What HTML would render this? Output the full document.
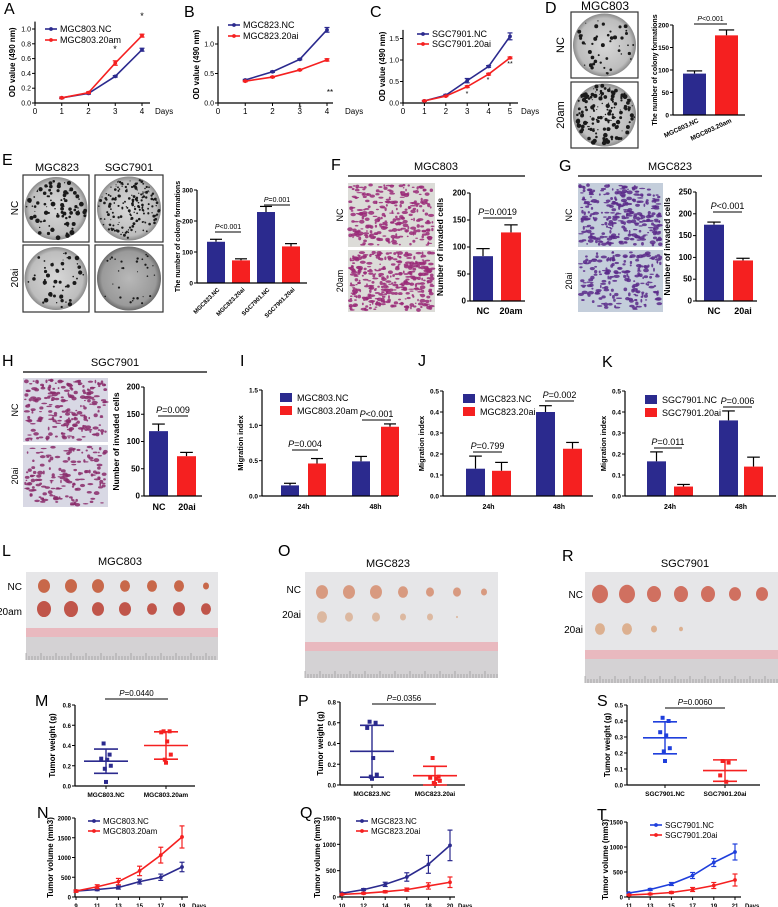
<!DOCTYPE html>
<html><head><meta charset="utf-8"><style>
html,body{margin:0;padding:0;background:#fff;}
svg{display:block;font-family:"Liberation Sans",Arial,sans-serif;}
</style></head><body>
<svg id="fig" width="778" height="907" viewBox="0 0 778 907" xmlns="http://www.w3.org/2000/svg">
<defs>
<radialGradient id="dish" cx="50%" cy="50%" r="50%"><stop offset="0" stop-color="#d8d8d8"/><stop offset="0.85" stop-color="#bdbdbd"/><stop offset="1" stop-color="#8a8a8a"/></radialGradient>
<radialGradient id="dish2" cx="50%" cy="50%" r="50%"><stop offset="0" stop-color="#b8b8b8"/><stop offset="0.85" stop-color="#9a9a9a"/><stop offset="1" stop-color="#6a6a6a"/></radialGradient>
</defs>
</svg>
<script>
// ---------- DATA ----------
const A_days=[1,2,3,4]; const A_nc=[0.07,0.13,0.36,0.72]; const A_nc_err=[0.01,0.01,0.01,0.02]; const A_am=[0.07,0.14,0.54,0.91]; const A_am_err=[0.01,0.01,0.03,0.02];
const B_days=[1,2,3,4]; const B_nc=[0.39,0.53,0.74,1.24]; const B_nc_err=[0.01,0.01,0.01,0.04]; const B_ai=[0.37,0.44,0.56,0.73]; const B_ai_err=[0.01,0.01,0.01,0.02];
const C_days=[1,2,3,4,5]; const C_nc=[0.05,0.18,0.52,0.85,1.55]; const C_nc_err=[0.01,0.02,0.05,0.02,0.08]; const C_ai=[0.05,0.16,0.38,0.67,1.05]; const C_ai_err=[0.01,0.01,0.02,0.02,0.02];
const D_vals=[92,177]; const D_errs=[6,12];
const E_vals=[133,73,229,118]; const E_errs=[8,5,18,9];
const F_vals=[83,127]; const F_errs=[14,14];
const G_vals=[175,93]; const G_errs=[6,5];
const H_vals=[119,73]; const H_errs=[13,7];
const I_nc=[0.15,0.49]; const I_nc_err=[0.03,0.07]; const I_tr=[0.46,0.98]; const I_tr_err=[0.07,0.04];
const J_nc=[0.13,0.40]; const J_nc_err=[0.06,0.03]; const J_tr=[0.12,0.225]; const J_tr_err=[0.04,0.03];
const K_nc=[0.165,0.36]; const K_nc_err=[0.045,0.045]; const K_tr=[0.045,0.14]; const K_tr_err=[0.01,0.045];
const M_nc=[0.42,0.31,0.27,0.26,0.20,0.17,0.04]; const M_nc_mean=0.245; const M_nc_sd=0.12;
const M_tr=[0.54,0.54,0.53,0.44,0.31,0.26,0.23]; const M_tr_mean=0.40; const M_tr_sd=0.135;
const P_nc=[0.61,0.60,0.55,0.26,0.10,0.08,0.06]; const P_nc_mean=0.325; const P_nc_sd=0.25;
const P_tr=[0.26,0.08,0.07,0.06,0.04,0.02,0.01]; const P_tr_mean=0.09; const P_tr_sd=0.09;
const S_nc=[0.42,0.40,0.33,0.31,0.23,0.21,0.15]; const S_nc_mean=0.295; const S_nc_sd=0.10;
const S_tr=[0.15,0.14,0.06,0.02]; const S_tr_mean=0.09; const S_tr_sd=0.067;
const N_days=[9,11,13,15,17,19]; const N_nc=[150,190,240,390,500,760]; const N_nc_err=[20,30,40,60,80,120]; const N_tr=[150,260,390,660,1060,1520]; const N_tr_err=[30,50,80,120,200,280];
const Q_days=[10,12,14,16,18,20]; const Q_nc=[70,140,240,380,620,980]; const Q_nc_err=[10,20,40,80,170,290]; const Q_tr=[50,70,100,140,210,280]; const Q_tr_err=[10,15,20,30,60,100];
const T_days=[11,13,15,17,19,21]; const T_nc=[80,150,260,430,690,900]; const T_nc_err=[10,20,30,60,80,160]; const T_tr=[40,60,90,150,230,340]; const T_tr_err=[10,15,20,40,60,120];

// ---------- HELPERS ----------
const NS='http://www.w3.org/2000/svg';
const svg=document.getElementById('fig');
const NAVY='#2b2a8e', RED='#f52020', BLUE='#1f3fdc';
function mk(tag,attrs,name,parent){
  const el=document.createElementNS(NS,tag);
  for(const k in attrs) el.setAttribute(k,attrs[k]);
  
  
  (parent||svg).appendChild(el); return el;
}
function ln(p,x1,y1,x2,y2,name,col,w){return mk('line',{x1,y1,x2,y2,stroke:col||'#000','stroke-width':w||1},name,p);}
function tx(p,x,y,s,name,size,o){o=o||{};const t=mk('text',{x,y,'font-size':size,'text-anchor':o.a||'start','font-weight':o.b?'bold':'normal',fill:o.c||'#000'},name,p);
  if(o.r!==undefined) t.setAttribute('transform','rotate('+o.r+' '+x+' '+y+')');
  if(o.i){const ts=mk('tspan',{'font-style':'italic'},'p-symbol',t);ts.textContent='P';const t2=mk('tspan',{},'p-value',t);t2.textContent=s;} else t.textContent=s; return t;}
function letter(x,y,s){tx(svg,x,y,s,'panel-label-'+s.toLowerCase(),16);}
function pline(p,x1,x2,y,s,size){ln(p,x1,y,x2,y,'significance-line');tx(p,(x1+x2)/2,y-3,s,'p-value-label',size||9,{a:'middle',i:true});}
let seed=7;function rnd(){seed=(seed*16807)%2147483647;return seed/2147483647;}

function axes(g,c,Y){
  ln(g,c.ax,Y(c.yAxisMax),c.ax,c.y0,'y-axis',null,1.2);
  ln(g,c.ax,c.y0,c.xEnd,c.y0,'x-axis',null,1.2);
  c.yticks.forEach((v,i)=>{ln(g,c.ax-3,Y(v),c.ax,Y(v),'y-tick');tx(g,c.ax-4,Y(v)+2.5,c.ylabels[i],'y-tick-label',c.tfs||7,{a:'end',b:c.tb});});
  if(c.ytitle) tx(g,c.ytx,(c.y0+Y(c.yAxisMax))/2,c.ytitle,'y-axis-title',c.yfs||8,{a:'middle',b:true,r:-90});
}
function lineChart(c){
  const g=mk('g',{},c.name);
  const X=v=>c.px0+(v-c.d0)/(c.d1-c.d0)*(c.px1-c.px0);
  const Y=v=>c.y0-v/c.ymax*(c.y0-c.yTop);
  axes(g,c,Y);
  c.xticks.forEach(v=>{ln(g,X(v),c.y0,X(v),c.y0+3,'x-tick');tx(g,X(v),c.y0+11,String(v),'x-tick-label',c.xfs||8,{a:'middle',b:c.tb});});
  tx(g,c.daysX,c.y0+11,'Days','x-axis-title',c.xfs||8,{b:c.tb});
  c.series.forEach((s,si)=>{
    const sg=mk('g',{},'series-'+s.key,g);
    mk('polyline',{points:s.days.map((d,i)=>X(d)+','+Y(s.vals[i])).join(' '),fill:'none',stroke:s.col,'stroke-width':1.6},'series-line',sg);
    s.days.forEach((d,i)=>{const x=X(d),y=Y(s.vals[i]),e=s.err[i];
      ln(sg,x,Y(s.vals[i]+e),x,Y(s.vals[i]-e),'error-bar',s.col,1.2);
      ln(sg,x-2.5,Y(s.vals[i]+e),x+2.5,Y(s.vals[i]+e),'error-cap',s.col,1.2);
      ln(sg,x-2.5,Y(s.vals[i]-e),x+2.5,Y(s.vals[i]-e),'error-cap',s.col,1.2);
      mk('circle',{cx:x,cy:y,r:1.9,fill:s.col},'data-point',sg);});
    const ly=c.legY+si*c.legDy;
    ln(g,c.legX,ly,c.legX+12,ly,'legend-line',s.col,1.6);
    mk('circle',{cx:c.legX+6,cy:ly,r:1.9,fill:s.col},'legend-marker',g);
    tx(g,c.legX+15,ly+3,s.label,'legend-entry',c.lfs||9);
  });
  return g;
}
function barChart(c){
  const g=mk('g',{},c.name);
  const Y=v=>c.y0-v/c.ymax*(c.y0-c.yTop);
  c.vals.forEach((v,i)=>{const l=c.lefts[i],w=c.w,col=c.cols[i],e=c.errs[i];
    ln(g,l+w/2,Y(v),l+w/2,Y(v+e),'error-bar',null,1.2);
    ln(g,l+w/2-w/3,Y(v+e),l+w/2+w/3,Y(v+e),'error-cap',null,1.2);
    mk('rect',{x:l,y:Y(v),width:w,height:c.y0-Y(v),fill:col},'bar-'+c.keys[i],g);});
  axes(g,c,Y);
  return g;
}
function scatter(c){
  const g=mk('g',{},c.name);
  const Y=v=>c.y0-v/c.ymax*(c.y0-c.yTop);
  axes(g,c,Y);
  const jit=[-2,3,-4,1,4,-1,0];
  c.groups.forEach((gr,gi)=>{
    const cx=c.gx[gi],col=gr.col;
    ln(g,cx,c.y0,cx,c.y0+3,'x-tick');
    tx(g,cx,c.y0+11,gr.label,'x-tick-label',6.5,{a:'middle',b:true});
    gr.pts.forEach((v,i)=>mk('rect',{x:cx+jit[i%7]*1.2-2,y:Y(v)-2,width:4,height:4,fill:col},'data-point',g));
    ln(g,cx-22,Y(gr.mean),cx+22,Y(gr.mean),'mean-line',col,1.6);
    ln(g,cx,Y(gr.mean+gr.sd),cx,Y(Math.max(0,gr.mean-gr.sd)),'sd-bar',col,1.4);
    ln(g,cx-12,Y(gr.mean+gr.sd),cx+12,Y(gr.mean+gr.sd),'sd-cap',col,1.6);
    ln(g,cx-12,Y(gr.mean-gr.sd),cx+12,Y(gr.mean-gr.sd),'sd-cap',col,1.6);
  });
  return g;
}
function dish(x,y,w,h,n,big,name,dark){
  const g=mk('g',{},name);
  mk('rect',{x,y,width:w,height:h,fill:'#fff',stroke:'#333','stroke-width':1.2},'photo-frame',g);
  const cx=x+w/2,cy=y+h/2,r=Math.min(w,h)/2-1.5;
  mk('circle',{cx,cy,r,fill:dark?'url(#dish2)':'url(#dish)'},'culture-dish',g);
  for(let i=0;i<n;i++){const a=rnd()*6.283,rr=Math.sqrt(rnd())*r*0.95;
    mk('circle',{cx:cx+Math.cos(a)*rr,cy:cy+Math.sin(a)*rr,r:0.5+rnd()*big,fill:'#1a1a1a'},'colony',g);}
}
function invasion(x,y,w,h,n,name,col,bg){
  const g=mk('g',{},name);
  mk('rect',{x,y,width:w,height:h,fill:bg},'photo-background',g);
  for(let i=0;i<n;i++){mk('ellipse',{cx:x+2+rnd()*(w-4),cy:y+2+rnd()*(h-4),rx:0.8+rnd()*2.4,ry:0.6+rnd()*1.4,fill:col,opacity:0.85},'cell',g);}
}
function tumors(x,y,w,h,rows,name,rulerTop){
  const g=mk('g',{},name);
  mk('rect',{x,y,width:w,height:h,fill:'#e6e6e8'},'photo-background',g);
  rows.forEach(r=>r.sizes.forEach((s,i)=>{if(s>0)mk('ellipse',{cx:x+r.x0+i*r.dx,cy:y+r.y,rx:s,ry:s*1.15,fill:r.col},'tumor',g);}));
  mk('rect',{x,y:y+rulerTop,width:w,height:9,fill:'#e9b9bf'},'ruler-scale',g);
  mk('rect',{x,y:y+rulerTop+9,width:w,height:h-rulerTop-9,fill:'#d4d2d4'},'ruler-body',g);
  for(let i=0;i<w;i+=3) ln(g,x+i,y+h-(i%15==0?7:4),x+i,y+h,'ruler-tick','#888',0.6);
}

// ---------- PANELS A-C ----------
letter(4,14,'A'); letter(184,17,'B'); letter(370,17,'C');
lineChart({name:'chart-a-cck8',ax:35,y0:103,yTop:29,ymax:1.0,yAxisMax:1.1,xEnd:150,px0:35,px1:142,d0:0,d1:4,
  yticks:[0,0.2,0.4,0.6,0.8,1.0],ylabels:['0.0','0.2','0.4','0.6','0.8','1.0'],xticks:[0,1,2,3,4],daysX:155,
  ytitle:'OD value (490 nm)',ytx:15,legX:45,legY:29,legDy:11,
  series:[{key:'mgc803-nc',days:A_days,vals:A_nc,err:A_nc_err,col:NAVY,label:'MGC803.NC'},{key:'mgc803-20am',days:A_days,vals:A_am,err:A_am_err,col:RED,label:'MGC803.20am'}]});
lineChart({name:'chart-b-cck8',ax:218,y0:103,yTop:44,ymax:1.0,yAxisMax:1.3,xEnd:333,px0:218,px1:327,d0:0,d1:4,
  yticks:[0,0.5,1.0],ylabels:['0.0','0.5','1.0'],xticks:[0,1,2,3,4],daysX:345,
  ytitle:'OD value (490 nm)',ytx:199,legX:228,legY:25,legDy:11,
  series:[{key:'mgc823-nc',days:B_days,vals:B_nc,err:B_nc_err,col:NAVY,label:'MGC823.NC'},{key:'mgc823-20ai',days:B_days,vals:B_ai,err:B_ai_err,col:RED,label:'MGC823.20ai'}]});
lineChart({name:'chart-c-cck8',ax:403,y0:103,yTop:60,ymax:1.0,yAxisMax:1.7,xEnd:518,px0:403,px1:510,d0:0,d1:5,
  yticks:[0,0.5,1.0,1.5],ylabels:['0.0','0.5','1.0','1.5'],xticks:[0,1,2,3,4,5],daysX:521,
  ytitle:'OD value (490 nm)',ytx:385,legX:417,legY:34,legDy:10,
  series:[{key:'sgc7901-nc',days:C_days,vals:C_nc,err:C_nc_err,col:NAVY,label:'SGC7901.NC'},{key:'sgc7901-20ai',days:C_days,vals:C_ai,err:C_ai_err,col:RED,label:'SGC7901.20ai'}]});
tx(svg,142,19,'*','significance-star',9,{a:'middle'});tx(svg,115,52,'*','significance-star',9,{a:'middle'});
tx(svg,300,111,'*','significance-star',8,{a:'middle'});tx(svg,330,95,'**','significance-star',8,{a:'middle'});
tx(svg,467,96,'*','significance-star',7,{a:'middle'});tx(svg,488,82,'*','significance-star',7,{a:'middle'});tx(svg,510,66,'**','significance-star',7,{a:'middle'});

// ---------- D ----------
letter(545,13,'D'); tx(svg,605,10,'MGC803','panel-title',12,{a:'middle'});
dish(571,12,67,66,45,1.6,'colony-photo-d-nc'); dish(571,82,67,66,160,1.8,'colony-photo-d-20am');
tx(svg,564,45,'NC','row-label',11,{a:'middle',r:-90}); tx(svg,564,115,'20am','row-label',11,{a:'middle',r:-90});
const gD=barChart({name:'chart-d-colonies',ax:673,y0:115,yTop:25,ymax:200,yAxisMax:200,xEnd:745,lefts:[683,715],w:23,cols:[NAVY,RED],keys:['mgc803-nc','mgc803-20am'],
  vals:D_vals,errs:D_errs,yticks:[0,50,100,150,200],ylabels:['0','50','100','150','200'],tfs:6.5,tb:true,ytitle:'The number of colony formations',ytx:657,yfs:7});
pline(gD,694,727,24,'<0.001',7);
tx(gD,699,122,'MGC803.NC','x-tick-label',6.5,{a:'end',b:true,r:-25});tx(gD,732,122,'MGC803.20am','x-tick-label',6.5,{a:'end',b:true,r:-25});

// ---------- E ----------
letter(2,165,'E'); tx(svg,57,171,'MGC823','panel-title',11,{a:'middle'}); tx(svg,129,171,'SGC7901','panel-title',11,{a:'middle'});
dish(23,175,66,67,90,2,'colony-photo-e-mgc823-nc'); dish(95,175,68,67,180,1,'colony-photo-e-sgc7901-nc');
dish(23,245,66,67,50,1.8,'colony-photo-e-mgc823-20ai'); dish(95,245,68,67,30,0.8,'colony-photo-e-sgc7901-20ai',true);
tx(svg,18,208,'NC','row-label',10,{a:'middle',r:-90}); tx(svg,18,278,'20ai','row-label',10,{a:'middle',r:-90});
const gE=barChart({name:'chart-e-colonies',ax:197,y0:283,yTop:190,ymax:300,yAxisMax:300,xEnd:307,lefts:[207,232,257,282],w:18,cols:[NAVY,RED,NAVY,RED],keys:['mgc823-nc','mgc823-20ai','sgc7901-nc','sgc7901-20ai'],
  vals:E_vals,errs:E_errs,yticks:[0,100,200,300],ylabels:['0','100','200','300'],tfs:6.5,tb:true,ytitle:'The number of colony formations',ytx:180,yfs:7});
pline(gE,215,241,232,'<0.001',7); pline(gE,264,290,205,'=0.001',7);
['MGC823.NC','MGC823.20ai','SGC7901.NC','SGC7901.20ai'].forEach((s,i)=>tx(gE,220+i*25,290,s,'x-tick-label',6,{a:'end',b:true,r:-45}));

// ---------- F, G ----------
letter(331,170,'F'); tx(svg,436,170,'MGC803','panel-title',11,{a:'middle'}); ln(svg,348,176,525,176,'title-rule',null,1.2);
invasion(348,183,87,64,260,'invasion-photo-f-nc','#9a2a78','#dcdcd8'); invasion(348,250,87,62,340,'invasion-photo-f-20am','#9a2a78','#dcdcd8');
tx(svg,343,215,'NC','row-label',9,{a:'middle',r:-90}); tx(svg,343,281,'20am','row-label',9,{a:'middle',r:-90});
const gF=barChart({name:'chart-f-invasion',ax:470,y0:301,yTop:193,ymax:200,yAxisMax:200,xEnd:525,lefts:[473,501],w:20,cols:[NAVY,RED],keys:['nc','20am'],
  vals:F_vals,errs:F_errs,yticks:[0,50,100,150,200],ylabels:['0','50','100','150','200'],tfs:8,tb:true,ytitle:'Number of invaded cells',ytx:443,yfs:8.5});
pline(gF,483,512,218,'=0.0019',9); tx(gF,483,314,'NC','x-tick-label',9,{a:'middle',b:true}); tx(gF,511,314,'20am','x-tick-label',9,{a:'middle',b:true});

letter(559,171,'G'); tx(svg,670,170,'MGC823','panel-title',11,{a:'middle'}); ln(svg,578,176,762,176,'title-rule',null,1.2);
invasion(578,183,85,64,300,'invasion-photo-g-nc','#5a2a8a','#c4cedb'); invasion(578,250,85,62,200,'invasion-photo-g-20ai','#5a2a8a','#c4cedb');
tx(svg,572,215,'NC','row-label',9,{a:'middle',r:-90}); tx(svg,572,281,'20ai','row-label',9,{a:'middle',r:-90});
const gG=barChart({name:'chart-g-invasion',ax:696,y0:301,yTop:192,ymax:250,yAxisMax:250,xEnd:757,lefts:[704,733],w:20,cols:[NAVY,RED],keys:['nc','20ai'],
  vals:G_vals,errs:G_errs,yticks:[0,50,100,150,200,250],ylabels:['0','50','100','150','200','250'],tfs:8,tb:true,ytitle:'Number of invaded cells',ytx:670,yfs:8.5});
pline(gG,713,742,212,'<0.001',9); tx(gG,714,314,'NC','x-tick-label',9,{a:'middle',b:true}); tx(gG,743,314,'20ai','x-tick-label',9,{a:'middle',b:true});

// ---------- H ----------
letter(2,366,'H'); tx(svg,115,366,'SGC7901','panel-title',11,{a:'middle'}); ln(svg,23,372,207,372,'title-rule',null,1.2);
invasion(23,378,85,64,220,'invasion-photo-h-nc','#8a2a6a','#d8d8e4'); invasion(23,445,85,62,160,'invasion-photo-h-20ai','#8a2a6a','#d8d8e4');
tx(svg,18,410,'NC','row-label',9,{a:'middle',r:-90}); tx(svg,18,476,'20ai','row-label',9,{a:'middle',r:-90});
const gH=barChart({name:'chart-h-invasion',ax:144,y0:496,yTop:387,ymax:200,yAxisMax:200,xEnd:202,lefts:[149,177],w:19,cols:[NAVY,RED],keys:['nc','20ai'],
  vals:H_vals,errs:H_errs,yticks:[0,50,100,150,200],ylabels:['0','50','100','150','200'],tfs:8,tb:true,ytitle:'Number of invaded cells',ytx:119,yfs:8.5});
pline(gH,158,188,416,'=0.009',9); tx(gH,159,510,'NC','x-tick-label',9,{a:'middle',b:true}); tx(gH,187,510,'20ai','x-tick-label',9,{a:'middle',b:true});

// ---------- I, J, K ----------
function migration(c){
  const g=barChart({name:c.name,ax:c.ax,y0:496,yTop:c.yTop,ymax:c.ymax,yAxisMax:c.ymax,xEnd:c.xEnd,lefts:c.lefts,w:c.w,cols:[NAVY,RED,NAVY,RED],keys:['24h-nc','24h-treated','48h-nc','48h-treated'],
    vals:[c.nc[0],c.tr[0],c.nc[1],c.tr[1]],errs:[c.ncE[0],c.trE[0],c.ncE[1],c.trE[1]],yticks:c.yticks,ylabels:c.ylabels,tfs:6.5,tb:true,ytitle:'Migration index',ytx:c.ax-19,yfs:7.5});
  tx(g,(c.lefts[0]+c.lefts[1]+c.w)/2,509,'24h','x-tick-label',7,{a:'middle',b:true});
  tx(g,(c.lefts[2]+c.lefts[3]+c.w)/2,509,'48h','x-tick-label',7,{a:'middle',b:true});
  c.leg.forEach((s,i)=>{mk('rect',{x:c.legX,y:c.legY+i*13,width:12,height:9,fill:i?RED:NAVY},'legend-swatch',g);tx(g,c.legX+17,c.legY+i*13+8,s,'legend-entry',9);});
  c.p.forEach(p=>pline(g,p[0],p[1],p[2],p[3],9));
}
letter(240,366,'I');
migration({name:'chart-i-migration',ax:262,yTop:390,ymax:1.5,xEnd:398,lefts:[281,308,352,381],w:18,nc:I_nc,ncE:I_nc_err,tr:I_tr,trE:I_tr_err,
  yticks:[0,0.5,1.0,1.5],ylabels:['0.0','0.5','1.0','1.5'],leg:['MGC803.NC','MGC803.20am'],legX:280,legY:393,p:[[292,318,450,'=0.004'],[362,391,420,'<0.001']]});
letter(418,366,'J');
migration({name:'chart-j-migration',ax:443,yTop:391,ymax:0.5,xEnd:593,lefts:[466,492,536,563],w:19,nc:J_nc,ncE:J_nc_err,tr:J_tr,trE:J_tr_err,
  yticks:[0,0.1,0.2,0.3,0.4,0.5],ylabels:['0.0','0.1','0.2','0.3','0.4','0.5'],leg:['MGC823.NC','MGC823.20ai'],legX:463,legY:394,p:[[473,502,452,'=0.799'],[545,574,401,'=0.002']]});
letter(602,367,'K');
migration({name:'chart-k-migration',ax:625,yTop:391,ymax:0.5,xEnd:776,lefts:[647,674,719,744],w:19,nc:K_nc,ncE:K_nc_err,tr:K_tr,trE:K_tr_err,
  yticks:[0,0.1,0.2,0.3,0.4,0.5],ylabels:['0.0','0.1','0.2','0.3','0.4','0.5'],leg:['SGC7901.NC','SGC7901.20ai'],legX:645,legY:395,p:[[654,682,448,'=0.011'],[723,752,407,'=0.006']]});

// ---------- L, O, R photos ----------
letter(2,556,'L'); tx(svg,120,565,'MGC803','panel-title',11,{a:'middle'});
tumors(26,572,192,88,[{x0:18,dx:27,y:14,col:'#c8684a',sizes:[6,6,6,5,5,5,3]},{x0:18,dx:27,y:37,col:'#c0554a',sizes:[7,7,6,6,5,6,5]}],'tumor-photo-l',56);
tx(svg,22,590,'NC','row-label',10,{a:'end'}); tx(svg,22,615,'20am','row-label',10,{a:'end'});
letter(278,556,'O'); tx(svg,388,567,'MGC823','panel-title',11,{a:'middle'});
tumors(305,572,193,106,[{x0:17,dx:27,y:20,col:'#d89a80',sizes:[6,6,6,5,4,4,3]},{x0:17,dx:27,y:45,col:'#dcb8a0',sizes:[5,4,4,3,3,1,0]}],'tumor-photo-o',70);
tx(svg,301,593,'NC','row-label',10,{a:'end'}); tx(svg,301,618,'20ai','row-label',10,{a:'end'});
letter(562,561,'R'); tx(svg,685,567,'SGC7901','panel-title',11,{a:'middle'});
tumors(585,572,193,111,[{x0:15,dx:27,y:22,col:'#d07060',sizes:[8,8,7,7,7,6,6]},{x0:15,dx:27,y:57,col:'#dcb090',sizes:[5,5,3,2,0,0,0]}],'tumor-photo-r',78);
tx(svg,583,598,'NC','row-label',10,{a:'end'}); tx(svg,583,633,'20ai','row-label',10,{a:'end'});

// ---------- M, P, S ----------
letter(35,706,'M');
const gM=scatter({name:'chart-m-tumor-weight',ax:75,y0:786,yTop:705,ymax:0.8,yAxisMax:0.8,xEnd:195,gx:[106,166],yticks:[0,0.2,0.4,0.6,0.8],ylabels:['0.0','0.2','0.4','0.6','0.8'],tfs:6,tb:true,ytitle:'Tumor weight (g)',ytx:55,yfs:8,
  groups:[{label:'MGC803.NC',pts:M_nc,mean:M_nc_mean,sd:M_nc_sd,col:NAVY},{label:'MGC803.20am',pts:M_tr,mean:M_tr_mean,sd:M_tr_sd,col:RED}]});
pline(gM,105,168,699,'=0.0440',8);
letter(298,706,'P');
const gP=scatter({name:'chart-p-tumor-weight',ax:340,y0:785,yTop:702,ymax:0.8,yAxisMax:0.8,xEnd:465,gx:[372,435],yticks:[0,0.2,0.4,0.6,0.8],ylabels:['0.0','0.2','0.4','0.6','0.8'],tfs:6,tb:true,ytitle:'Tumor weight (g)',ytx:323,yfs:8,
  groups:[{label:'MGC823.NC',pts:P_nc,mean:P_nc_mean,sd:P_nc_sd,col:NAVY},{label:'MGC823.20ai',pts:P_tr,mean:P_tr_mean,sd:P_tr_sd,col:RED}]});
pline(gP,372,436,704,'=0.0356',8);
letter(597,706,'S');
const gS=scatter({name:'chart-s-tumor-weight',ax:627,y0:785,yTop:705,ymax:0.5,yAxisMax:0.5,xEnd:760,gx:[665,725],yticks:[0,0.1,0.2,0.3,0.4,0.5],ylabels:['0.0','0.1','0.2','0.3','0.4','0.5'],tfs:6,tb:true,ytitle:'Tumor weight (g)',ytx:610,yfs:8,
  groups:[{label:'SGC7901.NC',pts:S_nc,mean:S_nc_mean,sd:S_nc_sd,col:BLUE},{label:'SGC7901.20ai',pts:S_tr,mean:S_tr_mean,sd:S_tr_sd,col:RED}]});
pline(gS,665,725,708,'=0.0060',8);

// ---------- N, Q, T ----------
letter(37,818,'N');
lineChart({name:'chart-n-tumor-volume',ax:75,y0:897,yTop:818,ymax:2000,yAxisMax:2000,xEnd:188,px0:76,px1:182,d0:9,d1:19,
  yticks:[0,500,1000,1500,2000],ylabels:['0','500','1000','1500','2000'],tfs:6,tb:true,xticks:N_days,xfs:6,daysX:192,
  ytitle:'Tumor volume (mm3)',ytx:53,legX:88,legY:821,legDy:10,lfs:8,
  series:[{key:'mgc803-nc',days:N_days,vals:N_nc,err:N_nc_err,col:NAVY,label:'MGC803.NC'},{key:'mgc803-20am',days:N_days,vals:N_tr,err:N_tr_err,col:RED,label:'MGC803.20am'}]});
letter(300,818,'Q');
lineChart({name:'chart-q-tumor-volume',ax:340,y0:897,yTop:818,ymax:1500,yAxisMax:1500,xEnd:455,px0:342,px1:450,d0:10,d1:20,
  yticks:[0,500,1000,1500],ylabels:['0','500','1000','1500'],tfs:6,tb:true,xticks:Q_days,xfs:6,daysX:458,
  ytitle:'Tumor volume (mm3)',ytx:320,legX:356,legY:821,legDy:10,lfs:8,
  series:[{key:'mgc823-nc',days:Q_days,vals:Q_nc,err:Q_nc_err,col:NAVY,label:'MGC823.NC'},{key:'mgc823-20ai',days:Q_days,vals:Q_tr,err:Q_tr_err,col:RED,label:'MGC823.20ai'}]});
letter(597,820,'T');
lineChart({name:'chart-t-tumor-volume',ax:627,y0:897,yTop:822,ymax:1500,yAxisMax:1500,xEnd:741,px0:629,px1:735,d0:11,d1:21,
  yticks:[0,500,1000,1500],ylabels:['0','500','1000','1500'],tfs:6,tb:true,xticks:T_days,xfs:6,daysX:745,
  ytitle:'Tumor volume (mm3)',ytx:608,legX:650,legY:825,legDy:10,lfs:8,
  series:[{key:'sgc7901-nc',days:T_days,vals:T_nc,err:T_nc_err,col:BLUE,label:'SGC7901.NC'},{key:'sgc7901-20ai',days:T_days,vals:T_tr,err:T_tr_err,col:RED,label:'SGC7901.20ai'}]});
</script>
</body></html>
